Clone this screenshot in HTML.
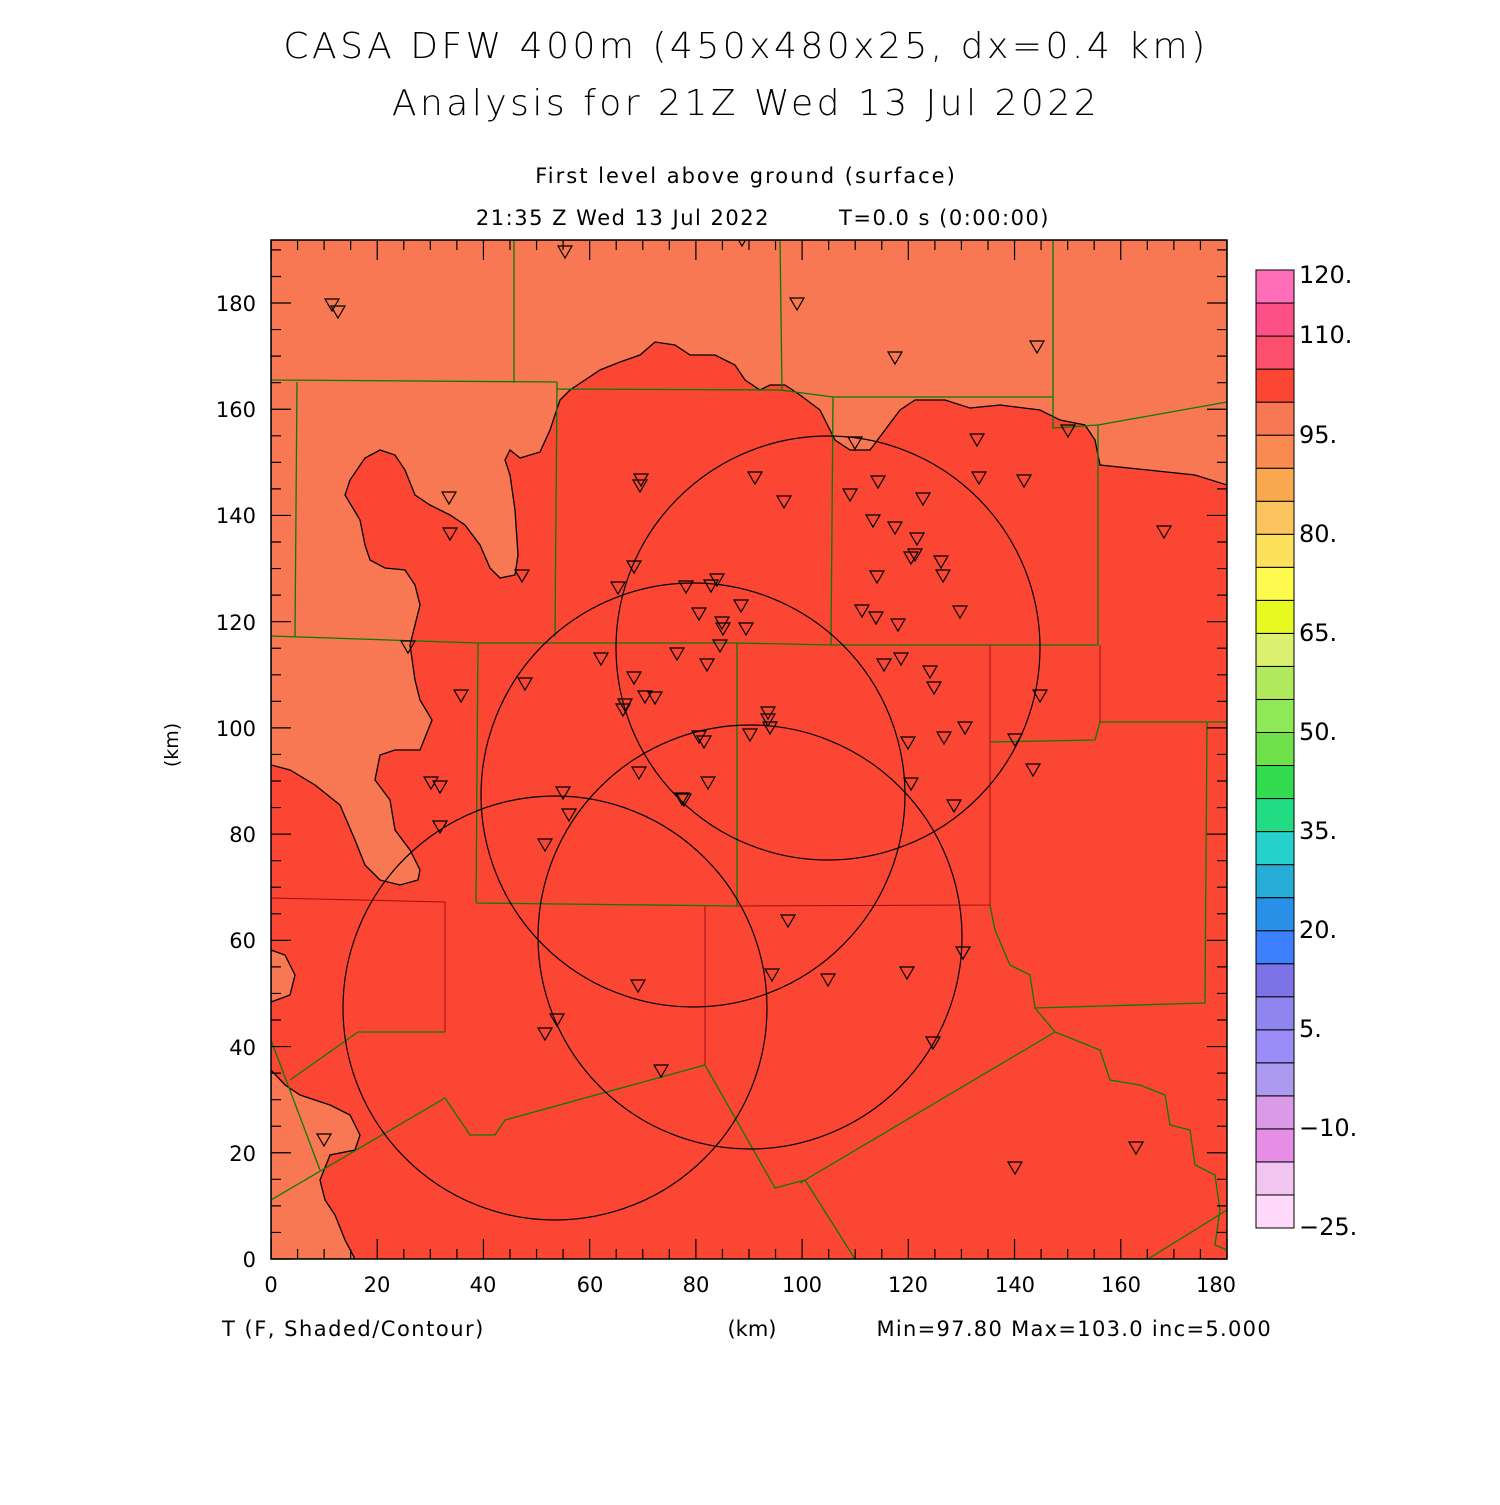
<!DOCTYPE html>
<html><head><meta charset="utf-8"><style>
html,body{margin:0;padding:0;background:#fff;}
svg text{font-family:"DejaVu Sans","Liberation Sans",sans-serif;fill:#000;}
</style></head><body>
<svg width="1500" height="1500" viewBox="0 0 1500 1500" xmlns="http://www.w3.org/2000/svg">
<text x="746" y="58" font-size="36" text-anchor="middle" letter-spacing="3.5" font-weight="200">CASA DFW 400m (450x480x25, dx=0.4 km)</text>
<text x="746" y="115" font-size="36" text-anchor="middle" letter-spacing="3.5" font-weight="200">Analysis for 21Z Wed 13 Jul 2022</text>
<text x="746" y="183" font-size="21" text-anchor="middle" letter-spacing="2">First level above ground (surface)</text>
<text x="770" y="225" font-size="21" text-anchor="end" letter-spacing="1.5">21:35 Z Wed 13 Jul 2022</text>
<text x="1050" y="225" font-size="21" text-anchor="end" letter-spacing="1.5">T=0.0 s (0:00:00)</text>
<defs><clipPath id="c"><rect x="271" y="240" width="956" height="1019"/></clipPath></defs>
<g clip-path="url(#c)">
<rect x="271" y="240" width="956" height="1019" fill="#fa4632"/>
<g fill="#f77852" stroke="#000" stroke-width="1.3">
<path d="M271,240 L1227,240 L1227,485 L1195,475 L1100,465 L1095,440 L1085,425 L1060,420 L1040,410 L1000,405 L970,408 L945,400 L915,400 L900,410 L885,430 L870,450 L850,450 L835,440 L830,430 L820,410 L800,395 L785,385 L770,385 L760,390 L745,380 L735,365 L715,355 L690,355 L675,345 L655,342 L640,355 L620,362 L600,370 L585,380 L570,390 L560,400 L550,430 L540,452 L520,458 L510,450 L505,460 L510,475 L515,510 L518,555 L515,575 L500,578 L490,568 L480,545 L465,525 L450,515 L430,505 L415,495 L405,470 L395,455 L380,450 L365,458 L350,480 L345,495 L360,520 L365,545 L370,560 L385,568 L405,570 L415,585 L420,605 L415,625 L410,645 L415,680 L420,700 L432,720 L420,750 L395,750 L380,755 L375,780 L390,800 L395,830 L410,850 L420,870 L418,880 L400,885 L380,880 L365,865 L355,840 L340,805 L315,785 L290,770 L271,765 Z"/>
<path d="M271,950 L285,955 L295,975 L290,995 L271,1002 Z"/>
<path d="M271,1070 L285,1085 L300,1095 L330,1105 L350,1115 L360,1135 L355,1150 L330,1155 L320,1180 L325,1200 L335,1215 L345,1240 L355,1259 L271,1259 Z"/>
</g>
<g fill="none" stroke="#0a7a0a" stroke-width="1.3">
<path d="M514,240 L514,383 M271,380 L557,382 M297,382 L295,637 M557,382 L555,637 M557,389 L780,390 L833,397 M780,240 L782,390 M833,397 L831,645 M833,397 L1053,397 M1053,240 L1053,428 L1098,425 L1227,402 M1098,425 L1098,645 M271,636 L478,643 L737,643 L833,645 L1098,645 M478,643 L476,903 M737,643 L737,906 M476,903 L737,906"/>
<path d="M290,1080 L358,1032 L445,1032 M271,1200 L445,1098 L470,1135 L495,1135 L505,1120 L705,1065 L775,1188 L805,1180 L855,1259 M1035,1008 L1055,1032 L1100,1050 L1110,1080 L1140,1085 L1165,1095 L1170,1125 L1190,1130 L1195,1165 L1215,1175 L1220,1210 L1215,1245 L1227,1250 M800,1183 L1055,1032 M1148,1259 L1227,1210 M271,1040 L320,1170 M990,905 L995,930 L1010,965 L1030,975 L1035,1008 L1205,1003 L1207,722 L1227,722 M990,742 L1095,740 L1100,722 L1207,722"/>
</g>
<g fill="none" stroke="#a01010" stroke-width="1">
<path d="M271,898 L445,902 L445,1032 M737,906 L990,905 L990,645 M705,906 L705,1065 M1100,645 L1100,722"/>
</g>
<g fill="none" stroke="#000" stroke-width="1.2">
<circle cx="828" cy="648" r="212"/><circle cx="693" cy="795" r="212"/><circle cx="750" cy="937" r="212"/><circle cx="555" cy="1008" r="212"/>
</g>
<g fill="none" stroke="#000" stroke-width="1.2" id="st"></g>
</g>
<rect x="271" y="240" width="956" height="1019" fill="none" stroke="#000" stroke-width="1.5"/>
<g id="ticks" stroke="#000" stroke-width="1.2"></g>
<g font-size="21" text-anchor="end">
<text x="256" y="1267">0</text><text x="256" y="1161">20</text><text x="256" y="1055">40</text><text x="256" y="948">60</text><text x="256" y="842">80</text><text x="256" y="736">100</text><text x="256" y="630">120</text><text x="256" y="523">140</text><text x="256" y="417">160</text><text x="256" y="311">180</text>
</g>
<g font-size="21" text-anchor="middle">
<text x="271" y="1292">0</text><text x="377" y="1292">20</text><text x="483" y="1292">40</text><text x="590" y="1292">60</text><text x="696" y="1292">80</text><text x="802" y="1292">100</text><text x="908" y="1292">120</text><text x="1015" y="1292">140</text><text x="1121" y="1292">160</text><text x="1216" y="1292">180</text>
</g>
<text x="178" y="745" font-size="19" text-anchor="middle" transform="rotate(-90 178 745)">(km)</text>
<text x="222" y="1336" font-size="21" letter-spacing="1.5">T (F, Shaded/Contour)</text>
<text x="752" y="1336" font-size="21" text-anchor="middle">(km)</text>
<text x="1272" y="1336" font-size="21" text-anchor="end" letter-spacing="1.3">Min=97.80 Max=103.0 inc=5.000</text>
<g id="cb" stroke="#000" stroke-width="1"></g>
<g font-size="24">
<text x="1299" y="283">120.</text><text x="1299" y="343">110.</text><text x="1299" y="443">95.</text><text x="1299" y="542">80.</text><text x="1299" y="641">65.</text><text x="1299" y="740">50.</text><text x="1299" y="839">35.</text><text x="1299" y="938">20.</text><text x="1299" y="1037">5.</text><text x="1299" y="1136">−10.</text><text x="1299" y="1235">−25.</text>
</g>
<script>
var ns="http://www.w3.org/2000/svg";
var st=[[332,305],[338,312],[565,252],[742,240],[797,304],[895,358],[1037,347],[855,443],[977,440],[1068,431],[449,498],[450,534],[641,480],[640,486],[755,478],[784,502],[850,495],[878,482],[923,499],[979,478],[1024,481],[1164,532],[873,521],[895,528],[917,539],[911,558],[915,555],[941,562],[943,576],[877,577],[522,576],[634,567],[618,588],[686,587],[711,586],[717,580],[741,606],[699,614],[722,623],[723,629],[746,629],[720,646],[862,611],[876,618],[898,625],[960,612],[408,647],[601,659],[677,654],[707,665],[884,665],[901,659],[930,672],[934,688],[461,696],[525,684],[634,678],[625,705],[623,710],[645,697],[655,698],[768,713],[768,720],[770,728],[750,735],[699,737],[704,742],[965,728],[944,738],[908,743],[1015,740],[1040,696],[1033,770],[431,783],[440,787],[639,773],[682,799],[684,800],[708,783],[911,784],[954,806],[563,793],[569,815],[440,827],[545,845],[788,921],[963,953],[907,973],[772,975],[828,980],[638,986],[557,1020],[545,1034],[933,1043],[661,1071],[324,1140],[1015,1168],[1136,1148]];
var g=document.getElementById("st");
st.forEach(function(p){var e=document.createElementNS(ns,"path");var x=p[0],y=p[1];e.setAttribute("d","M"+(x-7)+","+(y-6)+" L"+(x+7)+","+(y-6)+" L"+x+","+(y+6)+" Z");g.appendChild(e);});
var t=document.getElementById("ticks"),d="";
for(var k=0;k<=192;k+=5){var y=1259-k*5.311;var L=(k%20==0)?20:10;d+="M271,"+y+"h"+L+"M1227,"+y+"h-"+L;}
for(var k=0;k<=180;k+=5){var x=271+k*5.311;var L=(k%20==0)?20:10;d+="M"+x+",1259v-"+L+"M"+x+",240v"+L;}
var e=document.createElementNS(ns,"path");e.setAttribute("d",d);t.appendChild(e);
var cols=["#ffd8fa","#f2c4f0","#e68ee6","#da9ae8","#ab9af0","#9c8cf8","#8e86ee","#7c74e6","#3c80ff","#2890e6","#26acd6","#26d0cc","#22dc84","#32dc4e","#6ee04a","#8ee858","#b0ea5c","#dcf070","#e6fa22","#fefa50","#fde05c","#fcc45e","#faa850","#f98a52","#f77852","#fa4632","#fc4f6e","#fd5089","#ff6eb8"];
var cb=document.getElementById("cb");
for(var i=0;i<29;i++){var r=document.createElementNS(ns,"rect");var h=958/29;r.setAttribute("x",1256);r.setAttribute("y",1228-(i+1)*h);r.setAttribute("width",38);r.setAttribute("height",h);r.setAttribute("fill",cols[i]);cb.appendChild(r);}
</script>
</svg>
</body></html>
